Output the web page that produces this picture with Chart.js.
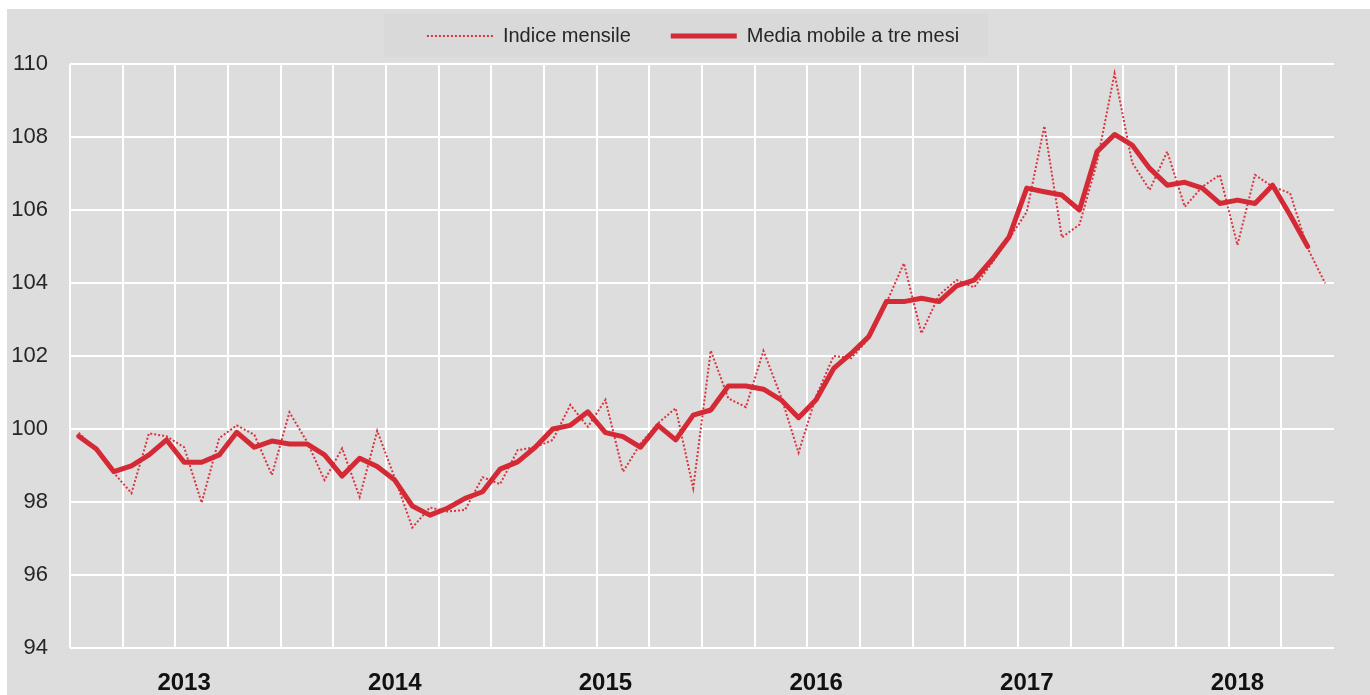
<!DOCTYPE html>
<html>
<head>
<meta charset="utf-8">
<script src="https://cdn.jsdelivr.net/npm/chart.js@4.4.1/dist/chart.umd.min.js"></script>
<style>
  html, body { margin: 0; padding: 0; background: #ffffff; }
  #wrap { position: relative; width: 1370px; height: 695px; overflow: hidden; }
  #panel { position: absolute; left: 7px; top: 9px; width: 1363px; height: 686px; background: #dddddd; }
  #legbox { position: absolute; left: 384px; top: 14px; width: 604px; height: 43px; background: #d9d9d9; }
  canvas { position: absolute; left: 0; top: 0; }
</style>
</head>
<body>
<div id="wrap">
  <div id="panel"></div>
  <div id="legbox"></div>
  <canvas id="c" width="1370" height="695"></canvas>
</div>
<script>
// ---- data ----
const years = ['2013', '2014', '2015', '2016', '2017', '2018'];
const months = ['01', '02', '03', '04', '05', '06', '07', '08', '09', '10', '11', '12'];
const yTicks = [94, 96, 98, 100, 102, 104, 106, 108, 110];

const indiceMensile = [
  99.9, 99.4, 98.8, 98.24, 99.88, 99.8, 99.5, 97.98, 99.75, 100.1, 99.84, 98.74,
  100.46, 99.65, 98.6, 99.47, 98.14, 99.95, 98.66, 97.3, 97.85, 97.74, 97.78, 98.68,
  98.49, 99.42, 99.5, 99.7, 100.66, 100.06, 100.8, 98.83, 99.6, 100.16, 100.57, 98.38,
  102.15, 100.84, 100.6, 102.14, 100.89, 99.35, 100.9, 102.0, 101.94, 102.48, 103.45, 104.54,
  102.62, 103.67, 104.08, 103.88, 104.54, 105.22, 105.95, 108.3, 105.25, 105.6, 107.3, 109.74,
  107.3, 106.55, 107.6, 106.09, 106.64, 106.96, 105.04, 106.96, 106.64, 106.46, 104.95, 103.99
];

const mediaMobile = [
  99.8, 99.45, 98.83, 98.99, 99.29, 99.7, 99.09, 99.09, 99.29, 99.91, 99.5, 99.67,
  99.59, 99.59, 99.29, 98.71, 99.2, 98.97, 98.6, 97.89, 97.64, 97.83, 98.1, 98.28,
  98.9, 99.1, 99.5, 100.0, 100.1, 100.47, 99.9, 99.79, 99.5, 100.1, 99.7, 100.38,
  100.52, 101.18, 101.18, 101.09, 100.8, 100.31, 100.8, 101.66, 102.07, 102.53, 103.49, 103.49,
  103.58, 103.49, 103.92, 104.08, 104.63, 105.27, 106.6, 106.5, 106.41, 106.0, 107.6, 108.07,
  107.78, 107.14, 106.68, 106.76, 106.6, 106.18, 106.27, 106.18, 106.68, 105.86, 105.0, null
];

const labels = [];
years.forEach(y => months.forEach(m => labels.push(y + '-' + m)));

// ---- chart ----
const FONT = "'Liberation Sans', Arial, sans-serif";
const RED = '#d42a35';

const legendPad = {
  id: 'legendPad',
  beforeInit(chart) {
    const lg = chart.legend;
    if (!lg) return;
    const fit = lg.fit;
    lg.fit = function () { fit.call(this); this.height += 8; };
  },
  afterLayout(chart) {
    const lg = chart.legend;
    if (lg) { lg.left += 52; }
  }
};

new Chart(document.getElementById('c'), {
  type: 'line',
  data: {
    labels: labels,
    datasets: [
      {
        label: 'Indice mensile',
        data: indiceMensile,
        borderColor: '#d9343f',
        backgroundColor: '#d9343f',
        borderWidth: 2,
        borderDash: [2, 2],
        pointRadius: 0,
        tension: 0,
        order: 2
      },
      {
        label: 'Media mobile a tre mesi',
        data: mediaMobile,
        borderColor: RED,
        backgroundColor: RED,
        borderWidth: 5,
        pointRadius: 0,
        tension: 0,
        borderJoinStyle: 'round',
        borderCapStyle: 'round',
        order: 1
      }
    ]
  },
  options: {
    responsive: false,
    animation: false,
    layout: { padding: { top: -14, left: 0, right: 36, bottom: 0 } },
    plugins: {
      legend: {
        display: true,
        position: 'top',
        labels: {
          usePointStyle: true,
          pointStyle: 'line',
          pointStyleWidth: 66,
          padding: 40,
          color: '#262626',
          font: { family: FONT, size: 20 },
          sort: (a, b) => a.datasetIndex - b.datasetIndex,
          generateLabels: (chart) => {
            const items = Chart.defaults.plugins.legend.labels.generateLabels(chart);
            items.forEach(it => {
              const ds = chart.data.datasets[it.datasetIndex];
              it.lineDash = ds.borderDash || [];
              it.lineWidth = ds.borderWidth;
              it.strokeStyle = ds.borderColor;
              it.lineCap = 'butt';
            });
            return items;
          }
        }
      },
      tooltip: { enabled: false }
    },
    scales: {
      x: {
        type: 'category',
        offset: true,
        grid: {
          offset: true,
          drawTicks: false,
          lineWidth: 2,
          color: (ctx) => (ctx.index % 3 === 0 ? '#ffffff' : 'rgba(0,0,0,0)')
        },
        border: { display: false },
        ticks: {
          autoSkip: false,
          maxRotation: 0,
          minRotation: 0,
          padding: 21,
          color: '#111111',
          font: { family: FONT, size: 24, weight: 'bold' },
          callback: function (val, idx) {
            return idx % 12 === 6 ? labels[idx].slice(0, 4) : '';
          }
        },
        afterFit: (s) => { s.height = 47; }
      },
      y: {
        min: yTicks[0],
        max: yTicks[yTicks.length - 1],
        afterBuildTicks: (s) => { s.ticks = yTicks.map(v => ({ value: v })); },
        grid: { drawTicks: false, lineWidth: 2, color: '#ffffff' },
        border: { display: false },
        ticks: {
          padding: 22,
          color: '#262626',
          font: { family: FONT, size: 22 }
        },
        afterFit: (s) => { s.width = 70; }
      }
    }
  },
  plugins: [legendPad]
});
</script>
</body>
</html>
